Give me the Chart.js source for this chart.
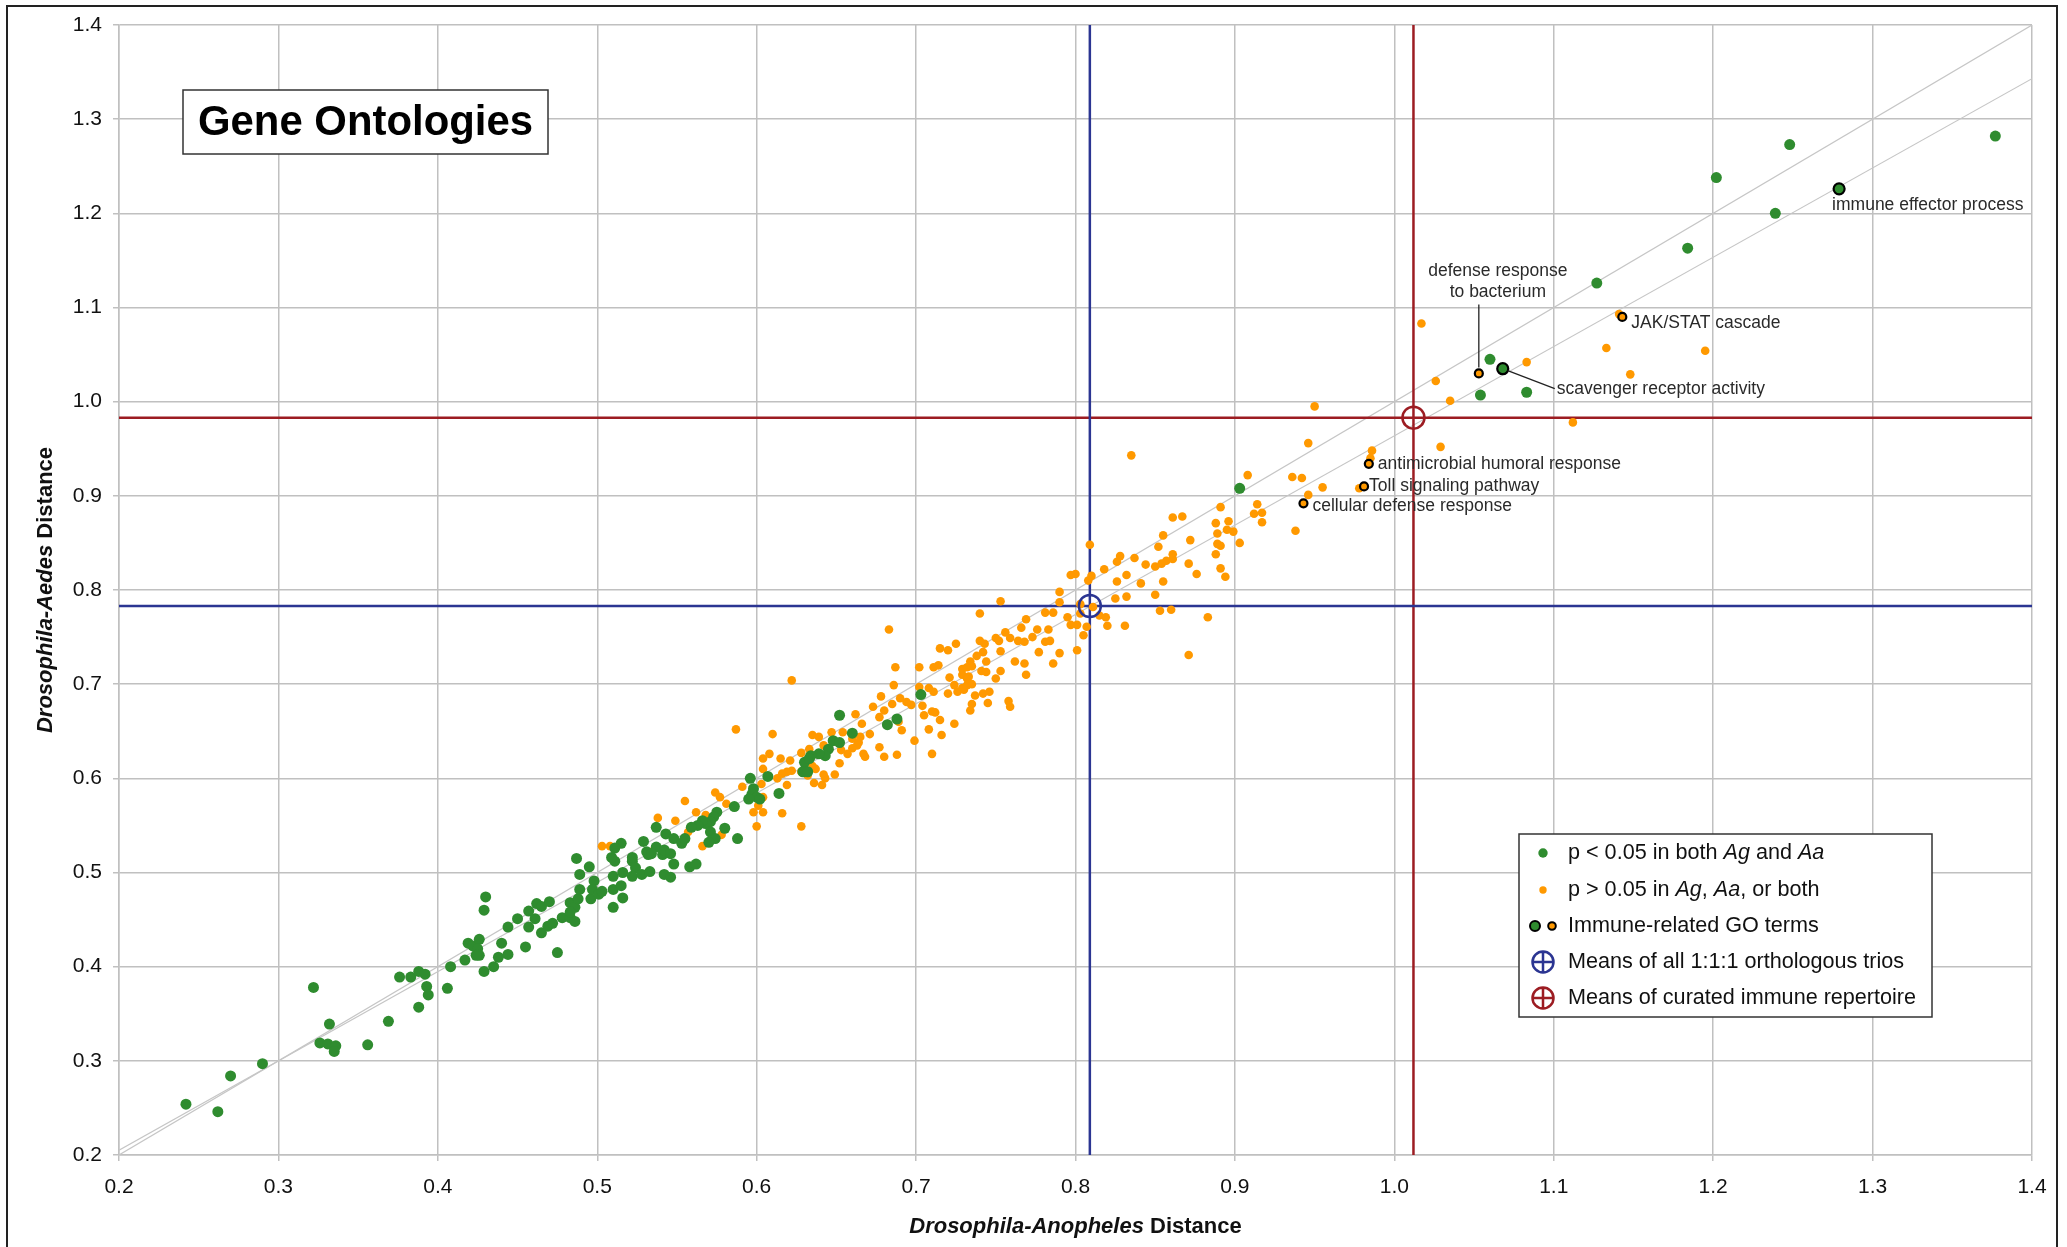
<!DOCTYPE html>
<html>
<head>
<meta charset="utf-8">
<title>Gene Ontologies</title>
<script src="https://cdn.jsdelivr.net/npm/chart.js@4.4.1/dist/chart.umd.min.js"></script>
<style>
  html, body { margin: 0; padding: 0; background: #fff; }
  #wrap { width: 2067px; height: 1247px; }
</style>
</head>
<body>
<div id="wrap"><canvas id="goChart" width="2067" height="1247"></canvas></div>
<script>
// ── Data (x = Drosophila-Anopheles, y = Drosophila-Aedes) ─────
const axisMin = 0.2;
const axisMax = 1.4;
const axisStep = 0.1;

// p < 0.05 in both Ag and Aa
const greenPoints = [
  [0.242,0.254],[0.262,0.246],[0.270,0.284],[0.290,0.297],[0.322,0.378],[0.332,0.339],[0.326,0.319],[0.331,0.318],
  [0.336,0.316],[0.335,0.310],[0.356,0.317],[0.369,0.342],[0.376,0.389],[0.383,0.389],[0.388,0.395],[0.392,0.392],
  [0.393,0.379],[0.394,0.370],[0.388,0.357],[0.406,0.377],[0.408,0.400],[0.417,0.407],[0.419,0.425],[0.422,0.422],
  [0.426,0.429],[0.425,0.419],[0.426,0.412],[0.424,0.412],[0.430,0.474],[0.429,0.460],[0.429,0.395],[0.435,0.400],
  [0.438,0.410],[0.440,0.425],[0.444,0.413],[0.444,0.442],[0.450,0.451],[0.455,0.421],[0.457,0.442],[0.457,0.459],
  [0.461,0.451],[0.462,0.467],[0.465,0.464],[0.470,0.469],[0.465,0.436],[0.469,0.443],[0.472,0.446],[0.475,0.415],
  [0.478,0.452],[0.483,0.452],[0.486,0.448],[0.483,0.468],[0.486,0.463],[0.488,0.472],[0.483,0.458],[0.487,0.515],
  [0.489,0.498],[0.495,0.506],[0.489,0.482],[0.496,0.472],[0.498,0.491],[0.497,0.482],[0.501,0.477],[0.503,0.480],
  [0.510,0.463],[0.516,0.473],[0.510,0.482],[0.515,0.486],[0.510,0.496],[0.511,0.512],[0.516,0.500],[0.522,0.512],
  [0.524,0.505],[0.522,0.496],[0.528,0.498],[0.533,0.501],[0.532,0.519],[0.541,0.519],[0.542,0.498],[0.546,0.495],
  [0.548,0.509],[0.558,0.506],[0.562,0.509],
  [0.703,0.689],[0.652,0.667],[0.660,0.648],[0.682,0.657],[0.688,0.663],[0.648,0.640],[0.652,0.638],[0.645,0.631],
  [0.643,0.624],[0.639,0.626],[0.634,0.624],[0.630,0.617],[0.633,0.621],[0.629,0.607],[0.632,0.607],[0.607,0.602],
  [0.596,0.600],[0.598,0.589],[0.597,0.583],[0.600,0.580],[0.595,0.578],[0.602,0.578],[0.614,0.584],[0.586,0.570],
  [0.575,0.564],[0.573,0.559],[0.571,0.554],[0.568,0.552],[0.566,0.555],[0.563,0.550],[0.580,0.547],[0.559,0.548],
  [0.571,0.543],[0.574,0.536],[0.570,0.532],[0.588,0.536],[0.537,0.548],[0.543,0.541],[0.548,0.536],[0.553,0.531],
  [0.555,0.536],[0.529,0.533],[0.537,0.527],[0.542,0.524],[0.546,0.520],[0.531,0.522],[0.534,0.520],[0.515,0.531],
  [0.511,0.526],[0.509,0.516],[0.522,0.516],
  [0.903,0.908],[1.060,1.045],[1.054,1.007],[1.083,1.010],[1.127,1.126],[1.184,1.163],[1.202,1.238],[1.239,1.200],
  [1.248,1.273],[1.377,1.282]
];

// p > 0.05 in Ag, Aa, or both
const orangePoints = [
  [0.946,0.956],[0.835,0.943],[0.908,0.922],[0.936,0.920],[0.942,0.919],[0.946,0.901],[0.891,0.888],[0.914,0.891],
  [0.912,0.881],[0.917,0.882],[0.861,0.877],[0.867,0.878],[0.917,0.872],[0.896,0.873],[0.888,0.871],[0.855,0.858],
  [0.889,0.860],[0.895,0.864],[0.899,0.862],[0.938,0.863],[0.872,0.853],[0.903,0.850],[0.889,0.849],[0.891,0.847],
  [0.852,0.846],[0.809,0.848],[0.888,0.838],[0.861,0.838],[0.828,0.836],[0.826,0.830],[0.837,0.834],[0.844,0.827],
  [0.850,0.825],[0.854,0.828],[0.857,0.831],[0.861,0.833],[0.871,0.828],[0.891,0.823],[0.876,0.817],[0.818,0.822],
  [0.797,0.816],[0.800,0.817],[0.810,0.815],[0.808,0.810],[0.832,0.816],[0.826,0.809],[0.841,0.807],[0.855,0.809],
  [0.894,0.814],[0.790,0.798],[0.790,0.787],[0.753,0.788],[0.850,0.795],[0.825,0.791],[0.832,0.793],[0.803,0.785],
  [0.811,0.782],[0.853,0.778],[0.860,0.779],[0.883,0.771],[0.740,0.775],[0.781,0.776],[0.786,0.776],[0.795,0.771],
  [0.803,0.775],[0.815,0.773],[0.819,0.771],[0.769,0.769],[0.797,0.763],[0.801,0.763],[0.807,0.761],[0.820,0.762],
  [0.831,0.762],[0.805,0.752],[0.766,0.760],[0.776,0.758],[0.783,0.758],[0.756,0.755],[0.759,0.749],[0.764,0.746],
  [0.768,0.745],[0.773,0.750],[0.781,0.745],[0.784,0.746],[0.750,0.749],[0.752,0.746],[0.740,0.746],[0.743,0.743],
  [0.801,0.736],[0.790,0.733],[0.777,0.734],[0.725,0.743],[0.715,0.738],[0.720,0.736],[0.683,0.758],[0.871,0.731],
  [0.753,0.735],[0.738,0.730],[0.742,0.734],[0.734,0.724],[0.744,0.724],[0.762,0.724],[0.768,0.722],[0.786,0.722],
  [0.687,0.718],[0.702,0.718],[0.711,0.718],[0.714,0.720],[0.729,0.716],[0.732,0.718],[0.735,0.719],[0.741,0.714],
  [0.744,0.713],[0.753,0.714],[0.721,0.707],[0.729,0.710],[0.733,0.708],[0.732,0.706],[0.750,0.706],[0.769,0.710],
  [0.622,0.704],[0.686,0.699],[0.702,0.697],[0.708,0.696],[0.711,0.692],[0.724,0.699],[0.729,0.696],[0.732,0.699],
  [0.735,0.700],[0.720,0.690],[0.726,0.692],[0.730,0.694],[0.737,0.688],[0.742,0.690],[0.746,0.692],[0.745,0.680],
  [0.758,0.682],[0.759,0.676],[0.735,0.679],[0.734,0.672],[0.678,0.687],[0.690,0.685],[0.694,0.681],[0.673,0.676],
  [0.685,0.679],[0.697,0.678],[0.704,0.677],[0.705,0.667],[0.710,0.671],[0.712,0.670],[0.715,0.662],[0.724,0.658],
  [0.708,0.652],[0.716,0.646],[0.699,0.640],[0.710,0.626],[0.691,0.651],[0.689,0.660],[0.677,0.665],[0.680,0.672],
  [0.662,0.668],[0.666,0.658],[0.671,0.647],[0.677,0.633],[0.680,0.623],[0.688,0.625],[0.668,0.623],[0.667,0.626],
  [0.660,0.642],[0.664,0.638],[0.665,0.644],[0.663,0.635],[0.660,0.632],[0.657,0.626],[0.653,0.630],[0.654,0.649],
  [0.647,0.649],[0.639,0.644],[0.635,0.646],[0.642,0.635],[0.645,0.631],[0.610,0.647],[0.587,0.652],[0.608,0.626],
  [0.604,0.621],[0.615,0.621],[0.621,0.619],[0.628,0.627],[0.633,0.631],[0.652,0.616],[0.649,0.604],[0.642,0.604],
  [0.643,0.600],[0.636,0.595],[0.641,0.593],[0.635,0.613],[0.637,0.610],[0.628,0.607],[0.632,0.603],[0.622,0.608],
  [0.619,0.607],[0.616,0.605],[0.613,0.600],[0.619,0.593],[0.604,0.610],[0.603,0.594],[0.591,0.591],[0.604,0.580],
  [0.601,0.571],[0.598,0.564],[0.604,0.564],[0.616,0.563],[0.600,0.549],[0.628,0.549],[0.574,0.585],[0.577,0.580],
  [0.581,0.573],[0.555,0.576],[0.562,0.564],[0.568,0.561],[0.549,0.555],[0.538,0.558],[0.557,0.543],[0.566,0.528],
  [0.578,0.540],[0.503,0.528],[0.508,0.528],[0.534,0.522],
  [0.950,0.995],[0.955,0.909],[0.978,0.908],[0.985,0.940],[0.986,0.948],[1.029,0.952],[1.017,1.083],[1.133,1.057],
  [1.195,1.054],[1.148,1.029],[1.083,1.042],[1.026,1.022],[1.035,1.001],[1.112,0.978],[1.141,1.093]
];

// Immune-related GO terms (outlined)
const immuneGreen = [[1.279,1.226],[1.068,1.035]];
const immuneGreenLabels = ["immune effector process", "scavenger receptor activity"];
const immuneOrange = [[1.143,1.090],[1.053,1.030],[0.984,0.934],[0.981,0.910],[0.943,0.892]];
const immuneOrangeLabels = ["JAK/STAT cascade", "defense response to bacterium", "antimicrobial humoral response",
  "Toll signaling pathway", "cellular defense response"];

// Means
const meanAllTrios = [0.809, 0.783];
const meanImmune = [1.012, 0.983];

// Reference lines: identity and fit through the trio mean
const identityLine = [[0.2,0.2],[1.4,1.4]];
const fitLine = [[0.2,0.205],[1.4,1.343]];

// ── Styles ────────────────────────────────────────────────────
const C = {
  green: "#2f8c2f",
  orange: "#ff9900",
  blue: "#2b3592",
  red: "#9c1c22",
  grid: "#c0c0c0",
  diag: "#c6c6c6",
  text: "#111111",
  note: "#2a2a2a"
};
const FONT = '"Liberation Sans", Arial, Helvetica, sans-serif';

const pts = (arr) => arr.map(([x, y]) => ({ x, y }));

// ── Overlay drawing: titles, legend, labels, frame ────────────
function runsWidth(ctx, runs, size, weight) {
  let w = 0;
  runs.forEach(([t, it]) => {
    ctx.font = `${it ? "italic " : ""}${weight} ${size}px ${FONT}`;
    w += ctx.measureText(t).width;
  });
  return w;
}

function drawRuns(ctx, runs, x, y, size, weight) {
  let cx = x;
  runs.forEach(([t, it]) => {
    ctx.font = `${it ? "italic " : ""}${weight} ${size}px ${FONT}`;
    ctx.fillText(t, cx, y);
    cx += ctx.measureText(t).width;
  });
}

function dot(ctx, x, y, r, fill, stroke, lw) {
  ctx.beginPath();
  ctx.arc(x, y, r, 0, Math.PI * 2);
  if (fill) { ctx.fillStyle = fill; ctx.fill(); }
  if (stroke) { ctx.strokeStyle = stroke; ctx.lineWidth = lw; ctx.stroke(); }
}

function crossCircle(ctx, x, y, r, color) {
  ctx.strokeStyle = color;
  ctx.lineWidth = 2.5;
  ctx.beginPath();
  ctx.arc(x, y, r, 0, Math.PI * 2);
  ctx.moveTo(x - r, y); ctx.lineTo(x + r, y);
  ctx.moveTo(x, y - r); ctx.lineTo(x, y + r);
  ctx.stroke();
}

const overlay = {
  id: "overlay",
  afterDraw(chart) {
    const ctx = chart.ctx;
    const sx = chart.scales.x, sy = chart.scales.y;
    const area = chart.chartArea;
    ctx.save();
    ctx.textBaseline = "middle";
    ctx.fillStyle = C.text;

    // axis titles
    const xRuns = [["Drosophila-Anopheles", true], [" Distance", false]];
    const xw = runsWidth(ctx, xRuns, 22, "bold");
    drawRuns(ctx, xRuns, (area.left + area.right) / 2 - xw / 2, 1227, 22, "bold");

    const yRuns = [["Drosophila-Aedes", true], [" Distance", false]];
    const yw = runsWidth(ctx, yRuns, 22, "bold");
    ctx.save();
    ctx.translate(46, (area.top + area.bottom) / 2);
    ctx.rotate(-Math.PI / 2);
    drawRuns(ctx, yRuns, -yw / 2, 0, 22, "bold");
    ctx.restore();

    // title box
    ctx.fillStyle = "#fff";
    ctx.fillRect(183, 90, 365, 64);
    ctx.strokeStyle = "#333";
    ctx.lineWidth = 1.5;
    ctx.strokeRect(183, 90, 365, 64);
    ctx.fillStyle = "#000";
    ctx.font = `bold 42px ${FONT}`;
    ctx.textAlign = "center";
    ctx.fillText("Gene Ontologies", 365.5, 123, 335);
    ctx.textAlign = "left";

    // point labels
    ctx.fillStyle = C.note;
    ctx.font = `17.5px ${FONT}`;
    const px = (p) => [sx.getPixelForValue(p[0]), sy.getPixelForValue(p[1])];

    let [ax, ay] = px(immuneGreen[0]);
    ctx.fillText(immuneGreenLabels[0], ax - 7, ay + 16);

    [ax, ay] = px(immuneGreen[1]);
    ctx.strokeStyle = "#222"; ctx.lineWidth = 1.3;
    ctx.beginPath(); ctx.moveTo(ax + 5, ay + 2); ctx.lineTo(ax + 52, ay + 20); ctx.stroke();
    ctx.fillText(immuneGreenLabels[1], ax + 54, ay + 20);

    [ax, ay] = px(immuneOrange[0]);
    ctx.fillText(immuneOrangeLabels[0], ax + 9, ay + 6);

    [ax, ay] = px(immuneOrange[1]);
    ctx.beginPath(); ctx.moveTo(ax, ay - 6); ctx.lineTo(ax, ay - 69); ctx.stroke();
    ctx.textAlign = "center";
    ctx.fillText("defense response", ax + 19, ay - 102);
    ctx.fillText("to bacterium", ax + 19, ay - 81);
    ctx.textAlign = "left";

    [ax, ay] = px(immuneOrange[2]);
    ctx.fillText(immuneOrangeLabels[2], ax + 9, ay);
    [ax, ay] = px(immuneOrange[3]);
    ctx.fillText(immuneOrangeLabels[3], ax + 5, ay);
    [ax, ay] = px(immuneOrange[4]);
    ctx.fillText(immuneOrangeLabels[4], ax + 9, ay + 3);

    // legend
    const lx = 1519, ly = 834, lw = 413, lh = 183;
    ctx.fillStyle = "#fff";
    ctx.fillRect(lx, ly, lw, lh);
    ctx.strokeStyle = "#333"; ctx.lineWidth = 1.5;
    ctx.strokeRect(lx, ly, lw, lh);
    const rows = [853, 890, 926, 962, 998];
    const tx = 1568, sxc = 1543, fs = 21.6;
    ctx.fillStyle = C.text;
    drawRuns(ctx, [["p < 0.05 in both ", false], ["Ag", true], [" and ", false], ["Aa", true]], tx, rows[0], fs, "normal");
    drawRuns(ctx, [["p > 0.05 in ", false], ["Ag", true], [", ", false], ["Aa", true], [", or both", false]], tx, rows[1], fs, "normal");
    drawRuns(ctx, [["Immune-related GO terms", false]], tx, rows[2], fs, "normal");
    drawRuns(ctx, [["Means of all 1:1:1 orthologous trios", false]], tx, rows[3], fs, "normal");
    drawRuns(ctx, [["Means of curated immune repertoire", false]], tx, rows[4], fs, "normal");
    dot(ctx, sxc, rows[0], 4.7, C.green);
    dot(ctx, sxc, rows[1], 3.7, C.orange);
    dot(ctx, 1535, rows[2], 5, C.green, "#000", 2);
    dot(ctx, 1552, rows[2], 3.8, C.orange, "#000", 2);
    crossCircle(ctx, sxc, rows[3], 10.5, C.blue);
    crossCircle(ctx, sxc, rows[4], 10.5, C.red);

    // outer frame
    ctx.strokeStyle = "#222";
    ctx.lineWidth = 2;
    ctx.strokeRect(7, 6, 2050, 1250);
    ctx.restore();
  }
};

// ── Chart ─────────────────────────────────────────────────────
const axisCommon = {
  type: "linear",
  min: axisMin,
  max: axisMax,
  ticks: {
    stepSize: axisStep,
    color: "#111",
    font: { family: FONT, size: 21 },
    callback: (v) => v.toFixed(1)
  },
  grid: { color: C.grid, lineWidth: 1.5, tickLength: 6, drawTicks: true },
  border: { display: true, color: C.grid, width: 1.5 }
};

new Chart(document.getElementById("goChart"), {
  type: "scatter",
  data: {
    datasets: [
      { data: pts(identityLine), showLine: true, borderColor: C.diag, borderWidth: 1.2, pointRadius: 0, order: 10 },
      { data: pts(fitLine), showLine: true, borderColor: C.diag, borderWidth: 1.2, pointRadius: 0, order: 10 },
      { data: [{ x: axisMin, y: meanAllTrios[1] }, { x: axisMax, y: meanAllTrios[1] }], showLine: true,
        borderColor: C.blue, borderWidth: 2.5, pointRadius: 0, order: 9 },
      { data: [{ x: meanAllTrios[0], y: axisMin }, { x: meanAllTrios[0], y: axisMax }], showLine: true,
        borderColor: C.blue, borderWidth: 2.5, pointRadius: 0, order: 9 },
      { data: [{ x: axisMin, y: meanImmune[1] }, { x: axisMax, y: meanImmune[1] }], showLine: true,
        borderColor: C.red, borderWidth: 2.5, pointRadius: 0, order: 9 },
      { data: [{ x: meanImmune[0], y: axisMin }, { x: meanImmune[0], y: axisMax }], showLine: true,
        borderColor: C.red, borderWidth: 2.5, pointRadius: 0, order: 9 },
      { data: pts(orangePoints), backgroundColor: C.orange, borderWidth: 0, pointRadius: 4.3, order: 6 },
      { data: pts(greenPoints), backgroundColor: C.green, borderWidth: 0, pointRadius: 5.5, order: 5 },
      { data: pts(immuneOrange), backgroundColor: C.orange, borderColor: "#000", borderWidth: 2.2, pointRadius: 4, order: 3 },
      { data: pts(immuneGreen), backgroundColor: C.green, borderColor: "#000", borderWidth: 2.2, pointRadius: 5.5, order: 3 },
      { data: [{ x: meanAllTrios[0], y: meanAllTrios[1] }], backgroundColor: "rgba(0,0,0,0)", borderColor: C.blue,
        borderWidth: 2.5, pointRadius: 11, order: 1 },
      { data: [{ x: meanImmune[0], y: meanImmune[1] }], backgroundColor: "rgba(0,0,0,0)", borderColor: C.red,
        borderWidth: 2.5, pointRadius: 11, order: 1 }
    ]
  },
  options: {
    responsive: false,
    animation: false,
    events: [],
    layout: { padding: { top: 25, right: 35, left: 0, bottom: 0 } },
    plugins: { legend: { display: false }, tooltip: { enabled: false } },
    scales: {
      x: { ...axisCommon, ticks: { ...axisCommon.ticks, padding: 14 }, afterFit: (s) => { s.height = 92; } },
      y: { ...axisCommon, ticks: { ...axisCommon.ticks, padding: 11 }, afterFit: (s) => { s.width = 119; } }
    }
  },
  plugins: [overlay]
});
</script>
</body>
</html>
